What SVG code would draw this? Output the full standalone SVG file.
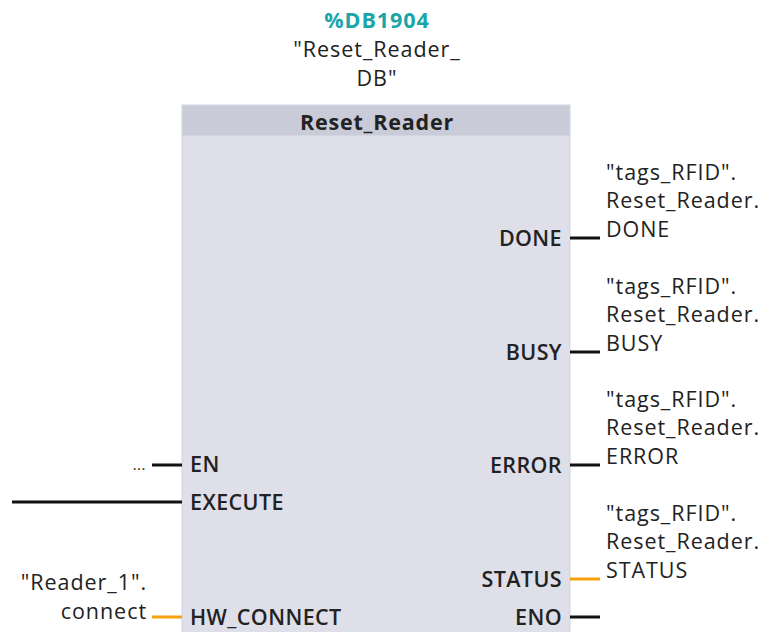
<svg xmlns="http://www.w3.org/2000/svg" width="762" height="632" viewBox="0 0 762 632">
  <defs>
    <style>
      text { font-family: "Open Sans", "Noto Sans", "DejaVu Sans", sans-serif; fill: #222; }
      .pin { font-size: 21.5px; font-weight: 600; letter-spacing: 0.4px; }
      .tag { font-size: 21.5px; letter-spacing: 0.95px; }
      .title { font-size: 21.5px; font-weight: 700; letter-spacing: 0.8px; }
      .inst { font-size: 21.5px; font-weight: 700; fill: #1aa5a8; letter-spacing: 0.95px; }
      .wire { stroke: #111; stroke-width: 3; fill: none; }
      .wire-hw { stroke: #f5a00c; stroke-width: 3; fill: none; }
      .ul { stroke-width: 2; }
    </style>
    <linearGradient id="ulL" x1="0" x2="1" y1="0" y2="0">
      <stop offset="0" stop-color="#ffffff" stop-opacity="0.95"/>
      <stop offset="1" stop-color="#ffffff" stop-opacity="0"/>
    </linearGradient>
    <linearGradient id="ulR" x1="0" x2="1" y1="0" y2="0">
      <stop offset="0" stop-color="#ffffff" stop-opacity="0.2"/>
      <stop offset="1" stop-color="#ffffff" stop-opacity="0.95"/>
    </linearGradient>
  </defs>

  <rect width="762" height="632" fill="#ffffff"/>

  <!-- instance data block -->
  <g id="instance-db">
    <text class="inst" x="377" y="28" text-anchor="middle">%DB1904</text>
    <text class="tag" x="377" y="57" text-anchor="middle">"Reset_Reader_</text>
    <text class="tag" x="377" y="86" text-anchor="middle">DB"</text>
  </g>

  <!-- function block box -->
  <g id="block-reset-reader">
    <rect x="182" y="105" width="388" height="540" fill="#dedfe8" stroke="#d2d3dd" stroke-width="1"/>
    <rect x="182.5" y="105.5" width="387" height="30" fill="#c9cbd8"/>
    <text class="title" x="377" y="130" text-anchor="middle">Reset_Reader</text>
  </g>

  <!-- wires -->
  <g id="connectors">
    <line class="wire" x1="152" y1="465" x2="182" y2="465"/>
    <line class="wire" x1="12" y1="502" x2="182" y2="502"/>
    <line class="wire-hw" x1="152" y1="617" x2="182" y2="617"/>
    <line class="wire" x1="570" y1="238" x2="600" y2="238"/>
    <line class="wire" x1="570" y1="352" x2="600" y2="352"/>
    <line class="wire" x1="570" y1="465" x2="600" y2="465"/>
    <line class="wire-hw" x1="570" y1="579" x2="600" y2="579"/>
    <line class="wire" x1="570" y1="617" x2="600" y2="617"/>
  </g>

  <!-- input pins -->
  <g id="pin-en">
    <text class="pin" x="190" y="472">EN</text>
    <line class="ul" x1="190" y1="483" x2="232" y2="483" stroke="url(#ulL)"/>
    <text class="tag" x="146" y="470" text-anchor="end" style="font-size:15px;letter-spacing:0.5px">...</text>
  </g>
  <g id="pin-execute">
    <text class="pin" x="190" y="510">EXECUTE</text>
    <line class="ul" x1="190" y1="520" x2="292" y2="520" stroke="url(#ulL)"/>
  </g>
  <g id="pin-hw-connect">
    <text class="pin" x="190" y="625">HW_CONNECT</text>
    <text class="tag" x="147" y="590" text-anchor="end">"Reader_1".</text>
    <text class="tag" x="147" y="619" text-anchor="end">connect</text>
  </g>

  <!-- output pins -->
  <g id="pin-done">
    <text class="pin" x="562" y="246" text-anchor="end">DONE</text>
    <line class="ul" x1="496" y1="254" x2="562" y2="254" stroke="url(#ulR)"/>
    <text class="tag" x="606" y="180">"tags_RFID".</text>
    <text class="tag" x="606" y="208">Reset_Reader.</text>
    <text class="tag" x="606" y="237">DONE</text>
  </g>
  <g id="pin-busy">
    <text class="pin" x="562" y="360" text-anchor="end">BUSY</text>
    <line class="ul" x1="496" y1="369" x2="562" y2="369" stroke="url(#ulR)"/>
    <text class="tag" x="606" y="294">"tags_RFID".</text>
    <text class="tag" x="606" y="322">Reset_Reader.</text>
    <text class="tag" x="606" y="351">BUSY</text>
  </g>
  <g id="pin-error">
    <text class="pin" x="562" y="473" text-anchor="end">ERROR</text>
    <line class="ul" x1="493" y1="483" x2="562" y2="483" stroke="url(#ulR)"/>
    <text class="tag" x="606" y="407">"tags_RFID".</text>
    <text class="tag" x="606" y="435">Reset_Reader.</text>
    <text class="tag" x="606" y="464">ERROR</text>
  </g>
  <g id="pin-status">
    <text class="pin" x="562" y="587" text-anchor="end">STATUS</text>
    <line class="ul" x1="480" y1="597" x2="562" y2="597" stroke="url(#ulR)"/>
    <text class="tag" x="606" y="521">"tags_RFID".</text>
    <text class="tag" x="606" y="549">Reset_Reader.</text>
    <text class="tag" x="606" y="578">STATUS</text>
  </g>
  <g id="pin-eno">
    <text class="pin" x="562" y="625" text-anchor="end">ENO</text>
  </g>
</svg>
